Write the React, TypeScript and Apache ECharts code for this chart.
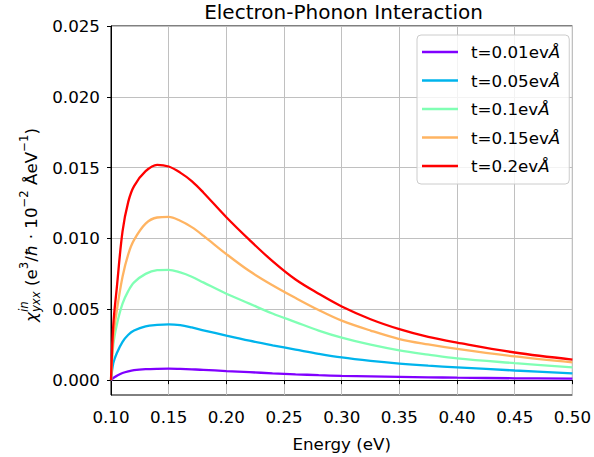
import React, { useEffect, useRef } from 'react';
import * as echarts from 'echarts';

// Photon energy grid (eV)
const energies = [0.1, 0.102, 0.105, 0.11, 0.115, 0.12, 0.13, 0.14, 0.15, 0.16, 0.17, 0.18, 0.2, 0.22, 0.24, 0.26, 0.28, 0.3, 0.325, 0.35, 0.375, 0.4, 0.45, 0.5];

// Susceptibility for each coupling strength t
const chiT001 = [0, 0.00015, 0.0003, 0.0005, 0.00062, 0.0007, 0.00077, 0.0008, 0.00081, 0.00079, 0.00076, 0.00073, 0.00064, 0.00056, 0.00048, 0.00041, 0.00035, 0.0003, 0.00026, 0.00023, 0.0002, 0.00017, 0.00013, 0.0001];
const chiT005 = [0, 0.0012, 0.0019, 0.0027, 0.0032, 0.0035, 0.0038, 0.0039, 0.00394, 0.00388, 0.00372, 0.00352, 0.00314, 0.00278, 0.00246, 0.00216, 0.00186, 0.0016, 0.00136, 0.00117, 0.00102, 0.0009, 0.00068, 0.00048];
const chiT01 = [0, 0.0025, 0.0039, 0.0054, 0.0063, 0.0069, 0.0075, 0.00776, 0.00779, 0.0076, 0.0073, 0.0069, 0.0061, 0.0054, 0.0047, 0.0041, 0.0035, 0.003, 0.0025, 0.0021, 0.0018, 0.00153, 0.0012, 0.0009];
const chiT015 = [0, 0.003, 0.0049, 0.0073, 0.0089, 0.0099, 0.01105, 0.01148, 0.01152, 0.01125, 0.0108, 0.0102, 0.0089, 0.0077, 0.0067, 0.0058, 0.00495, 0.0042, 0.0035, 0.0029, 0.00252, 0.0022, 0.00167, 0.00125];
const chiT02 = [0, 0.0039, 0.0065, 0.0105, 0.0126, 0.0137, 0.01475, 0.0152, 0.01508, 0.01465, 0.01405, 0.01325, 0.0115, 0.0099, 0.0084, 0.0071, 0.0061, 0.0052, 0.0043, 0.0036, 0.00305, 0.00265, 0.00195, 0.00145];

const seriesNames = ['t=0.01evÅ', 't=0.05evÅ', 't=0.1evÅ', 't=0.15evÅ', 't=0.2evÅ'];
const seriesValues = [chiT001, chiT005, chiT01, chiT015, chiT02];
const seriesColors = ['#8000ff', '#00b4ec', '#80ffb4', '#ffb462', '#ff0000'];

const yTicks = [0, 0.005, 0.01, 0.015, 0.02, 0.025];

const FONT = '"DejaVu Sans", sans-serif';
const F = 16.7;
const S = 11.7;

type Piece = { t: string; size: number; italic?: boolean; dy: number; noAdvance?: boolean };

function buildYLabel(): any {
  const ctx = document.createElement('canvas').getContext('2d')!;
  const measure = (s: string, size: number, italic?: boolean) => {
    ctx.font = `${italic ? 'italic ' : ''}${size}px ${FONT}`;
    return ctx.measureText(s).width;
  };
  const sup = -0.42 * F;
  const sub = 0.3 * F;
  const pieces: Piece[] = [
    { t: 'χ', size: F, italic: true, dy: 0 },
    { t: 'in', size: S, italic: true, dy: sup, noAdvance: true },
    { t: 'yxx', size: S, italic: true, dy: sub },
    { t: ' (e', size: F, dy: 0 },
    { t: '3', size: S, dy: sup },
    { t: '/', size: F, dy: 0 },
    { t: 'ħ', size: F, italic: true, dy: 0 },
    { t: ' · 10', size: F, dy: 0 },
    { t: '−2', size: S, dy: sup },
    { t: ' ÅeV', size: F, dy: 0 },
    { t: '−1', size: S, dy: sup },
    { t: ')', size: F, dy: 0 },
  ];
  const placed: { p: Piece; x: number }[] = [];
  let x = 0;
  const inW = measure('in', S, true);
  for (const p of pieces) {
    placed.push({ p, x });
    if (p.noAdvance) continue;
    let w = measure(p.t, p.size, p.italic);
    if (p.t === 'yxx') w = Math.max(w, inW);
    x += w;
  }
  const total = x;
  return {
    type: 'group',
    x: 31,
    y: 225,
    rotation: Math.PI / 2,
    silent: true,
    children: placed.map(({ p, x: px }) => ({
      type: 'text',
      x: px - total / 2,
      y: p.dy,
      style: {
        text: p.t,
        fontSize: p.size,
        fontFamily: FONT,
        fontStyle: p.italic ? 'italic' : 'normal',
        fill: '#000',
        align: 'left',
        verticalAlign: 'middle',
      },
    })),
  };
}

export default function App() {
  const ref = useRef<HTMLDivElement>(null);

  useEffect(() => {
    if (!ref.current) return;
    const chart = echarts.init(ref.current, undefined, { renderer: 'svg' });

    const series = seriesNames.map((name, i) => ({
      name,
      type: 'line',
      data: energies.map((e, k) => [e, seriesValues[i][k]]),
      smooth: 0.35,
      showSymbol: false,
      symbol: 'none',
      lineStyle: { color: seriesColors[i], width: 2.3 },
      itemStyle: { color: seriesColors[i] },
      z: 3,
    }));

    chart.setOption({
      animation: false,
      backgroundColor: '#fff',
      textStyle: { fontFamily: FONT },
      grid: {
        left: 111,
        right: 18,
        top: 26,
        bottom: 61,
        show: true,
        borderColor: '#000',
        borderWidth: 1,
        backgroundColor: 'transparent',
      },
      xAxis: {
        type: 'value',
        min: 0.1,
        max: 0.5,
        interval: 0.05,
        name: 'Energy (eV)',
        nameLocation: 'middle',
        nameGap: 40,
        nameTextStyle: { fontSize: F, color: '#000', fontFamily: FONT },
        axisLine: { show: true, lineStyle: { color: '#000', width: 1 } },
        axisTick: { show: true, inside: false, length: 4, lineStyle: { color: '#000' } },
        axisLabel: {
          fontSize: F,
          color: '#000',
          fontFamily: FONT,
          margin: 13,
          formatter: (v: number) => v.toFixed(2),
        },
        splitLine: { show: true, lineStyle: { color: '#c0c0c0', width: 1 } },
      },
      yAxis: {
        type: 'value',
        min: -0.00105,
        max: 0.025,
        splitNumber: 5,
        axisLine: { show: true, lineStyle: { color: '#000', width: 1 } },
        axisTick: {
          show: true,
          inside: false,
          length: 4,
          lineStyle: { color: '#000' },
          customValues: yTicks,
        },
        axisLabel: {
          fontSize: F,
          color: '#000',
          fontFamily: FONT,
          margin: 11,
          customValues: yTicks,
          formatter: (v: number) => (v < -0.0001 ? '' : Math.abs(v).toFixed(3)),
        },
        splitLine: { show: true, lineStyle: { color: '#c0c0c0', width: 1 } },
      },
      legend: {
        orient: 'vertical',
        left: 417,
        top: 35,
        padding: [7, 9, 8, 5],
        itemGap: 8.5,
        itemWidth: 36,
        itemHeight: 2.5,
        icon: 'rect',
        borderColor: '#cccccc',
        borderWidth: 1,
        borderRadius: 4,
        backgroundColor: 'rgba(255,255,255,0.8)',
        data: seriesNames,
        formatter: (name: string) => name.replace('Å', '{i|Å}'),
        textStyle: {
          fontSize: F,
          fontFamily: FONT,
          color: '#000',
          lineHeight: 20,
          padding: [0, 0, 0, 8],
          rich: {
            i: { fontSize: F, fontFamily: FONT, fontStyle: 'italic', color: '#000', lineHeight: 20 },
          },
        },
      },
      graphic: [
        {
          type: 'text',
          x: 343.5,
          y: 11.5,
          silent: true,
          style: {
            text: 'Electron-Phonon Interaction',
            fontSize: 20,
            fontFamily: FONT,
            fill: '#000',
            align: 'center',
            verticalAlign: 'middle',
          },
        },
        buildYLabel(),
      ],
      series,
    });

    return () => chart.dispose();
  }, []);

  return (
    <div
      ref={ref}
      style={{ position: 'fixed', left: 0, top: 0, width: 594, height: 457, background: '#fff' }}
    />
  );
}
